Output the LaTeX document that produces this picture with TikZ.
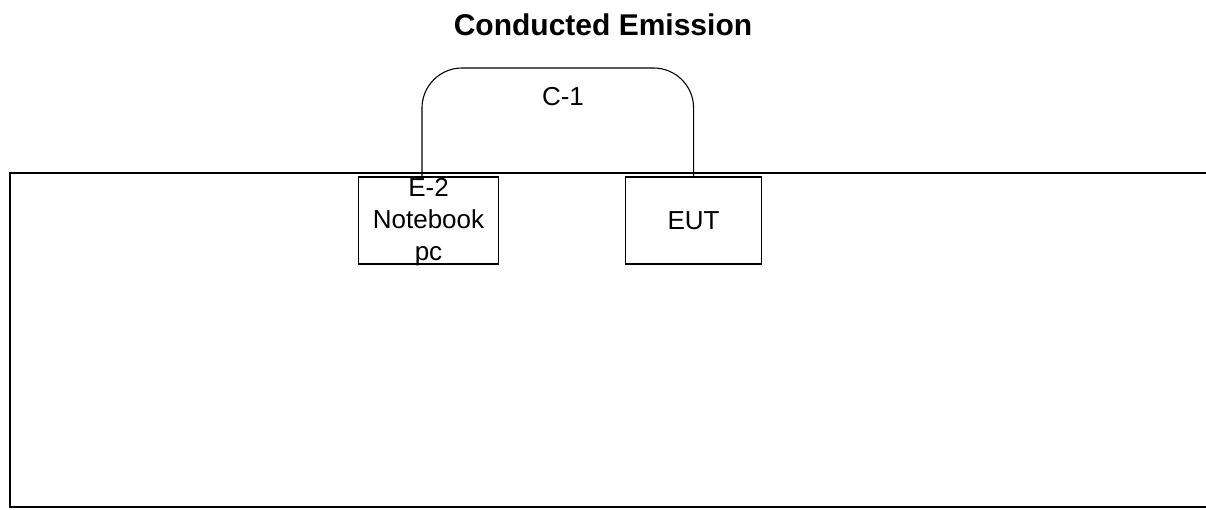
\documentclass[tikz,border=0pt]{standalone}
\usepackage{fontspec}
\setmainfont{Liberation Sans}
\usetikzlibrary{positioning}

\begin{document}
\begin{tikzpicture}[x=1pt, y=-1pt, line width=1.1pt]
    \tikzstyle{box} = [rectangle, draw, minimum width=140pt, minimum height=87pt, inner sep=0pt]
    \tikzstyle{lbl} = [font=\fontsize{26}{32}\selectfont, align=center, inner sep=0pt]
    \tikzstyle{cable} = [rounded corners=40pt]

    \useasboundingbox (0,0) rectangle (1206,509);

    \node [font=\bfseries\fontsize{30}{36}\selectfont] (title) at (603,25) {Conducted Emission};

    % test table outline, open on the right
    \coordinate (tl) at (10,173);
    \draw (1210,173) -- (tl) -- (10,507) -- (1210,507);

    \node [box] (notebook) at (428.5,220.5) {};
    \node [lbl] at ([yshift=-2pt]notebook) {E-2\\Notebook\\pc};
    \node [box, minimum width=136pt, right=126pt of notebook] (eut) {};
    \node [lbl] at (eut) {EUT};

    \coordinate (top) at (558,68);
    \draw [cable] ([xshift=-6.5pt]notebook.north) |- (top) -| (eut.north);
    \node [lbl] (c1) at (563,97) {C-1};
\end{tikzpicture}
\end{document}
